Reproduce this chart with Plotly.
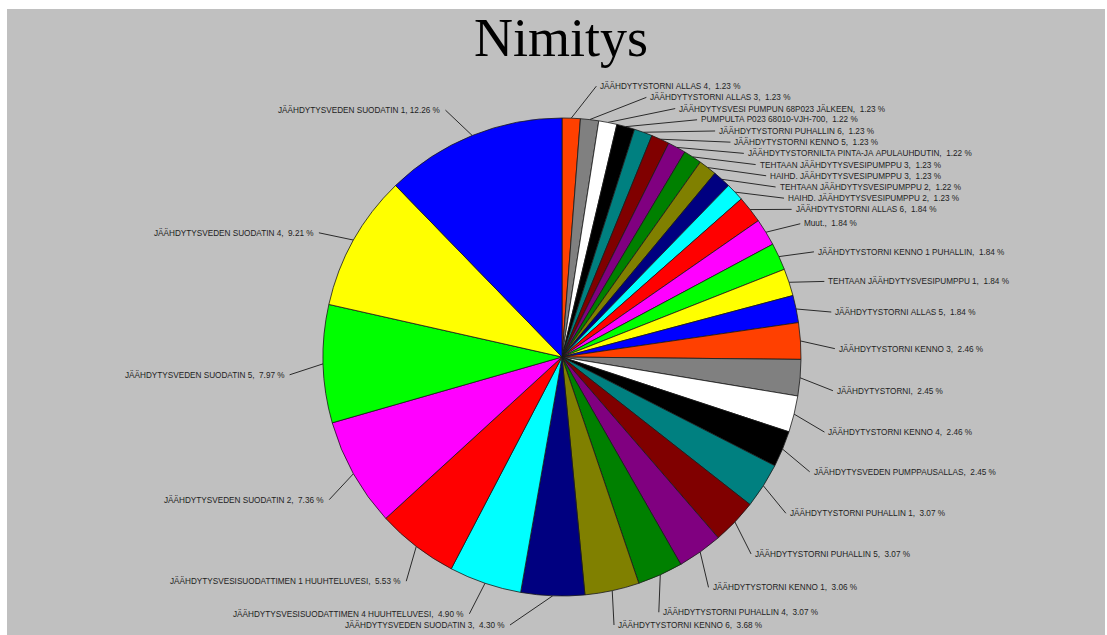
import numpy as np
import plotly.graph_objects as go

# Slice names, clockwise from 12 o'clock
labels = [
    "JÄÄHDYTYSTORNI ALLAS 4",
    "JÄÄHDYTYSTORNI ALLAS 3",
    "JÄÄHDYTYSVESI PUMPUN 68P023 JÄLKEEN",
    "PUMPULTA P023 68010-VJH-700",
    "JÄÄHDYTYSTORNI PUHALLIN 6",
    "JÄÄHDYTYSTORNI KENNO 5",
    "JÄÄHDYTYSTORNILTA PINTA-JA APULAUHDUTIN",
    "TEHTAAN JÄÄHDYTYSVESIPUMPPU 3",
    "HAIHD. JÄÄHDYTYSVESIPUMPPU 3",
    "TEHTAAN JÄÄHDYTYSVESIPUMPPU 2",
    "HAIHD. JÄÄHDYTYSVESIPUMPPU 2",
    "JÄÄHDYTYSTORNI ALLAS 6",
    "Muut.",
    "JÄÄHDYTYSTORNI KENNO 1 PUHALLIN",
    "TEHTAAN JÄÄHDYTYSVESIPUMPPU 1",
    "JÄÄHDYTYSTORNI ALLAS 5",
    "JÄÄHDYTYSTORNI KENNO 3",
    "JÄÄHDYTYSTORNI",
    "JÄÄHDYTYSTORNI KENNO 4",
    "JÄÄHDYTYSVEDEN PUMPPAUSALLAS",
    "JÄÄHDYTYSTORNI PUHALLIN 1",
    "JÄÄHDYTYSTORNI PUHALLIN 5",
    "JÄÄHDYTYSTORNI KENNO 1",
    "JÄÄHDYTYSTORNI PUHALLIN 4",
    "JÄÄHDYTYSTORNI KENNO 6",
    "JÄÄHDYTYSVEDEN SUODATIN 3",
    "JÄÄHDYTYSVESISUODATTIMEN 4 HUUHTELUVESI",
    "JÄÄHDYTYSVESISUODATTIMEN 1 HUUHTELUVESI",
    "JÄÄHDYTYSVEDEN SUODATIN 2",
    "JÄÄHDYTYSVEDEN SUODATIN 5",
    "JÄÄHDYTYSVEDEN SUODATIN 4",
    "JÄÄHDYTYSVEDEN SUODATIN 1",
]

# Share of each item, percent
shares = [
    1.23, 1.23, 1.23, 1.22, 1.23, 1.23, 1.22, 1.23, 1.23, 1.22, 1.23,
    1.84, 1.84, 1.84, 1.84, 1.84,
    2.46, 2.45, 2.46, 2.45,
    3.07, 3.07, 3.06, 3.07,
    3.68, 4.30, 4.90, 5.53, 7.36, 7.97, 9.21, 12.26,
]

title_text = "Nimitys"

# Colour cycle used for the slices
palette = [
    "#FF4000", "#808080", "#FFFFFF", "#000000", "#008080", "#800000",
    "#800080", "#008000", "#808000", "#000080", "#00FFFF", "#FF0000",
    "#FF00FF", "#00FF00", "#FFFF00", "#0000FF",
]
slice_colors = [palette[i % len(palette)] for i in range(len(shares))]

# Page geometry (pixels)
W, H = 1107, 635
CX, CY, R = 562, 357, 239          # pie centre and radius
RL = 273                            # label ring radius
GAP = 11.2                          # minimum vertical label spacing
YMAX = 625                          # lowest label line
LABEL_FONT = dict(family="Liberation Sans, Arial, sans-serif",
                  size=8.2, color="#1e1e1e")
LINE_COLOR = "#2a2a2a"

fig = go.Figure()

# Pie itself, placed so its centre / radius land on CX, CY, R
fig.add_trace(go.Pie(
    labels=labels,
    values=shares,
    sort=False,
    direction="clockwise",
    rotation=0,
    marker=dict(colors=slice_colors, line=dict(color="#1a1a1a", width=0.8)),
    textinfo="none",
    hoverinfo="label+percent",
    showlegend=False,
    domain=dict(x=[(CX - R) / W, (CX + R) / W],
                y=[1 - (CY + R) / H, 1 - (CY - R) / H]),
))

# Mid-angle of every slice, degrees clockwise from 12 o'clock
vals = np.array(shares, dtype=float)
frac = vals / vals.sum()
mid = (np.cumsum(frac) - frac / 2) * 360.0
rad = np.radians(mid)

# Preferred label heights on the ring
desired = CY - RL * np.cos(rad) + 10 * np.sqrt(np.abs(np.sin(rad)))
desired = np.minimum(desired, YMAX)

label_y = desired.copy()
right = [i for i in range(len(vals)) if mid[i] < 180]
left = [i for i in range(len(vals)) if mid[i] >= 180]

# Right side: top to bottom, push down then pull back above the floor
for k in range(1, len(right)):
    i, p = right[k], right[k - 1]
    label_y[i] = max(label_y[i], label_y[p] + GAP)
label_y[right[-1]] = min(label_y[right[-1]], YMAX)
for k in range(len(right) - 2, -1, -1):
    i, n = right[k], right[k + 1]
    label_y[i] = min(label_y[i], label_y[n] - GAP)

# Left side: bottom to top, push upward
label_y[left[0]] = min(label_y[left[0]], YMAX)
for k in range(1, len(left)):
    i, p = left[k], left[k - 1]
    label_y[i] = min(label_y[i], label_y[p] - GAP)

line_x, line_y = [], []
annotations = []
for i in range(len(vals)):
    ex = CX + R * np.sin(rad[i])
    ey = CY - R * np.cos(rad[i])
    dy = label_y[i] - CY
    dx = np.sqrt(max(RL ** 2 - dy ** 2, 0.0))
    on_right = mid[i] < 180
    lx = CX + dx if on_right else CX - dx
    line_x += [ex, lx, None]
    line_y += [ey, label_y[i], None]
    txt = f"{labels[i]},\u00a0{shares[i]:5.2f}\u00a0%".replace(" ", "\u00a0")
    annotations.append(dict(
        x=lx + (2 if on_right else -3), y=label_y[i], xref="x", yref="y",
        text=txt, showarrow=False, font=LABEL_FONT,
        xanchor="left" if on_right else "right", yanchor="middle",
    ))

# Leader lines from slice edge to label
fig.add_trace(go.Scatter(
    x=line_x, y=line_y, mode="lines",
    line=dict(color=LINE_COLOR, width=1),
    hoverinfo="skip", showlegend=False,
))

annotations.append(dict(
    x=561, y=38, xref="x", yref="y", text=title_text, showarrow=False,
    font=dict(family="Liberation Serif, Times New Roman, serif", size=54, color="#000000"),
    xanchor="center", yanchor="middle",
))

fig.update_layout(
    width=W, height=H,
    margin=dict(l=0, r=0, t=0, b=0),
    paper_bgcolor="#FFFFFF",
    plot_bgcolor="rgba(0,0,0,0)",
    xaxis=dict(range=[0, W], visible=False, fixedrange=True, domain=[0, 1]),
    yaxis=dict(range=[H, 0], visible=False, fixedrange=True, domain=[0, 1]),
    shapes=[dict(type="rect", xref="x", yref="y", x0=7, x1=1105, y0=9, y1=H,
                 fillcolor="#C0C0C0", line=dict(width=0), layer="below")],
    annotations=annotations,
)

fig.write_html("out.html")
